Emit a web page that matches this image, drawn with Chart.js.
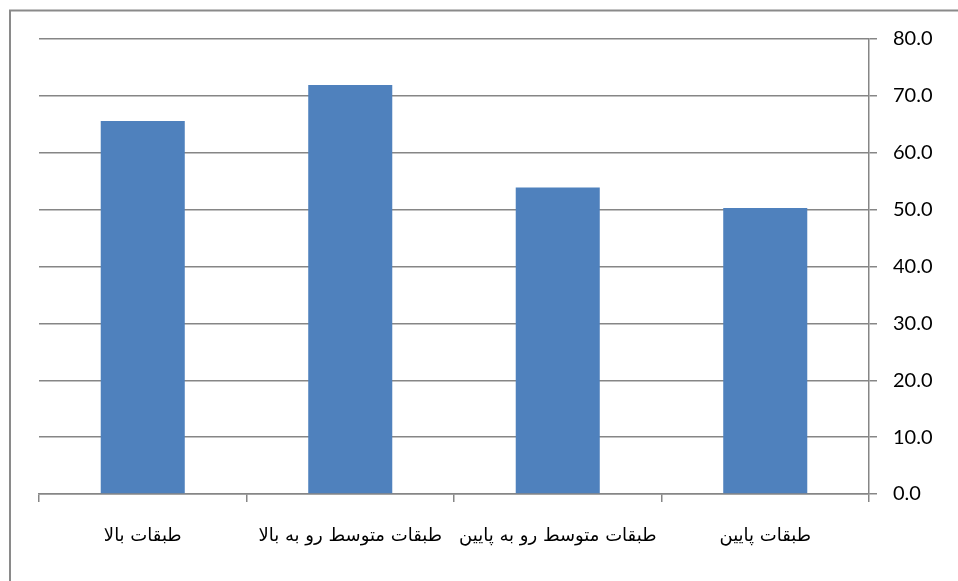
<!DOCTYPE html>
<html><head><meta charset="utf-8">
<script src="https://cdn.jsdelivr.net/npm/chart.js@4"></script>
<style>html,body{margin:0;padding:0;background:#fff;}#wrap{width:958px;height:581px;}</style>
</head><body><div id="wrap"><canvas id="c" width="958" height="581"></canvas></div>
<script>
const categories = ["طبقات بالا", "طبقات متوسط رو به بالا", "طبقات متوسط رو به پایین", "طبقات پایین"];
const values = [65.6, 71.9, 53.9, 50.3];
const yTicks = [0, 10, 20, 30, 40, 50, 60, 70, 80];

const frame = {
  id: 'frame',
  beforeDraw(chart) {
    const ctx = chart.ctx;
    ctx.save();
    ctx.fillStyle = '#fff';
    ctx.fillRect(0, 0, chart.width, chart.height);
    ctx.strokeStyle = '#8a8a8a';
    ctx.lineWidth = 2;
    ctx.strokeRect(10, 10.5, 1000, 1000);
    ctx.restore();
  }
};

new Chart(document.getElementById('c'), {
  type: 'bar',
  data: {
    labels: categories,
    datasets: [{ data: values, backgroundColor: '#4F81BD', borderWidth: 0,
      categoryPercentage: 1, barPercentage: 0.405 }]
  },
  options: {
    responsive: false, animation: false,
    layout: { padding: { left: 39, top: 39, right: 0, bottom: 0 } },
    plugins: { legend: { display: false }, tooltip: { enabled: false } },
    scales: {
      x: {
        grid: { offset: true, drawOnChartArea: false, drawTicks: true, tickLength: 8, color: '#868686', lineWidth: 1.5 },
        border: { display: true, color: '#868686', width: 1.5 },
        ticks: { font: { family: "'DejaVu Sans'", size: 18 }, color: '#000', padding: 24, maxRotation: 0, minRotation: 0, autoSkip: false },
        afterFit(s) { s.height = 87; }
      },
      y: {
        position: 'right', min: 0, max: 80,
        afterBuildTicks(s) { s.ticks = yTicks.map(v => ({ value: v })); },
        grid: { color: '#868686', lineWidth: 1.5, tickLength: 8 },
        border: { display: true, color: '#868686', width: 1.5 },
        ticks: { font: { family: 'Lato', size: 20 }, color: '#000', padding: 16,
          callback: v => Number(v).toFixed(1) },
        afterFit(s) { s.width = 89; }
      }
    }
  },
  plugins: [frame]
});
</script></body></html>
